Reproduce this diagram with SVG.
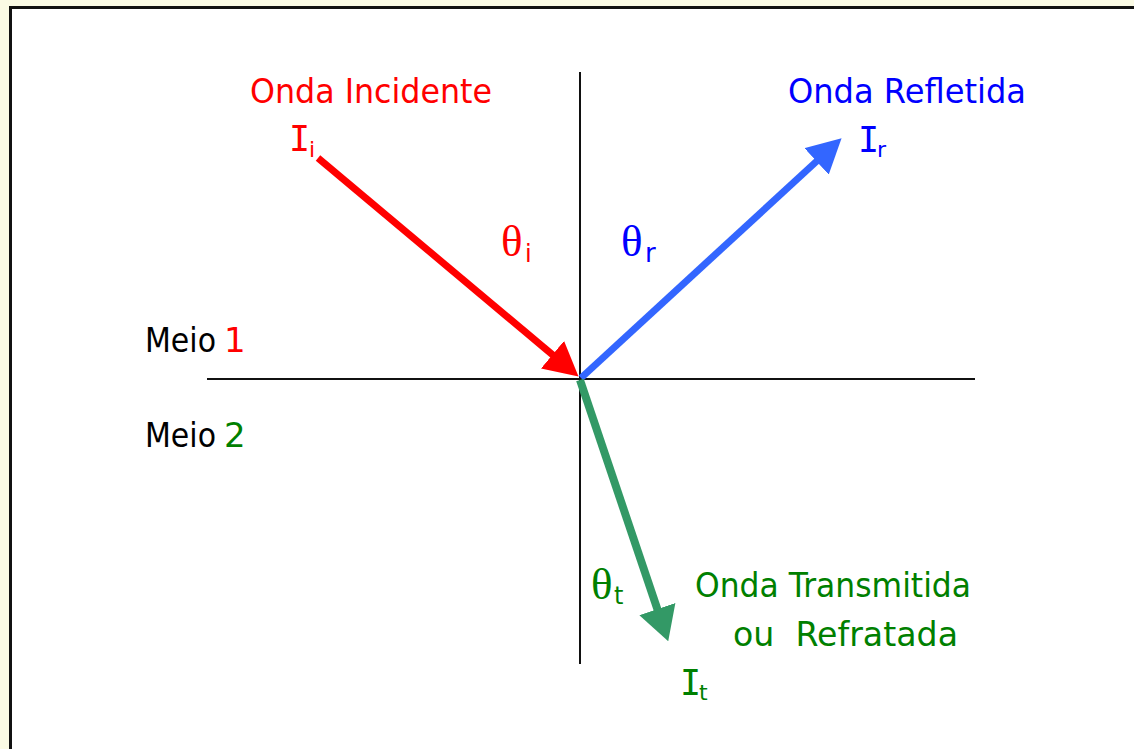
<svg xmlns="http://www.w3.org/2000/svg" width="1134" height="749" viewBox="0 0 1134 749">
  <style>
    .lbl { font-family: "Comic Sans MS", "DejaVu Sans", sans-serif; font-size: 34px; }
    .sym { font-family: "DejaVu Sans Mono", monospace; font-size: 35px; }
    .sub { font-family: "Comic Sans MS", "DejaVu Sans", sans-serif; font-size: 22px; }
    .th { font-family: "Liberation Serif", serif; font-size: 45px; }
    .red { fill: #FF0000; }
    .blue { fill: #0000FF; }
    .green { fill: #008000; }
    .blk { fill: #000000; }
    .axis { stroke: #111111; stroke-width: 2; fill: none; }
  </style>
  <defs>
    <marker id="hRed" markerUnits="userSpaceOnUse" viewBox="0 0 34 36" refX="2" refY="18" markerWidth="34" markerHeight="36" orient="auto">
      <path d="M0,0 L34,18 L0,36 Z" fill="#FF0000"/>
    </marker>
    <marker id="hBlue" markerUnits="userSpaceOnUse" viewBox="0 0 34 36" refX="2" refY="18" markerWidth="34" markerHeight="36" orient="auto">
      <path d="M0,0 L34,18 L0,36 Z" fill="#3366FF"/>
    </marker>
    <marker id="hGreen" markerUnits="userSpaceOnUse" viewBox="0 0 34 38" refX="2" refY="19" markerWidth="34" markerHeight="38" orient="auto">
      <path d="M0,0 L34,19 L0,38 Z" fill="#339966"/>
    </marker>
  </defs>

  <rect x="0" y="0" width="1134" height="749" fill="#FAFAE4"/>
  <rect x="10.5" y="7.5" width="1200" height="800" fill="#FFFFFF" stroke="#111111" stroke-width="3"/>

  <g id="axes">
    <line class="axis" x1="580" y1="72" x2="580" y2="664"/>
    <line class="axis" x1="207" y1="379" x2="975" y2="379"/>
  </g>

  <g id="connectors">
    <line id="incident" x1="318" y1="158" x2="554" y2="356" stroke="#FF0000" stroke-width="7" marker-end="url(#hRed)"/>
    <line id="reflected" x1="581" y1="378" x2="818" y2="160" stroke="#3366FF" stroke-width="7" marker-end="url(#hBlue)"/>
    <line id="transmitted" x1="580" y1="380" x2="658" y2="611" stroke="#339966" stroke-width="8" marker-end="url(#hGreen)"/>
  </g>

  <g id="incident-label">
    <text class="lbl red" x="250" y="103" textLength="242" lengthAdjust="spacingAndGlyphs">Onda Incidente</text>
    <text class="sym red" x="289" y="151">I</text>
    <text class="sub red" x="309" y="157">i</text>
  </g>

  <g id="reflected-label">
    <text class="lbl blue" x="788" y="103" textLength="238" lengthAdjust="spacingAndGlyphs">Onda Refletida</text>
    <text class="sym blue" x="858" y="152">I</text>
    <text class="sub blue" x="877" y="157">r</text>
  </g>

  <g id="theta-i">
    <text class="th red" x="501" y="256">θ</text>
    <text class="sub red" x="525" y="262" style="font-size:24px">i</text>
  </g>

  <g id="theta-r">
    <text class="th blue" x="621" y="256">θ</text>
    <text class="sub blue" x="645" y="262" style="font-size:26px">r</text>
  </g>

  <g id="medium1">
    <text class="lbl blk" x="145" y="352" textLength="71" lengthAdjust="spacingAndGlyphs">Meio</text>
    <text class="lbl red" x="224" y="352">1</text>
  </g>

  <g id="medium2">
    <text class="lbl blk" x="145" y="447" textLength="71" lengthAdjust="spacingAndGlyphs">Meio</text>
    <text class="lbl green" x="224" y="447">2</text>
  </g>

  <g id="theta-t">
    <text class="th green" x="591" y="599">θ</text>
    <text class="sub green" x="614" y="604" style="font-size:24px">t</text>
  </g>

  <g id="transmitted-label">
    <text class="lbl green" x="695" y="597" textLength="276" lengthAdjust="spacingAndGlyphs">Onda Transmitida</text>
    <text class="lbl green" x="733" y="646" textLength="225" lengthAdjust="spacingAndGlyphs" xml:space="preserve">ou  Refratada</text>
    <text class="sym green" x="680" y="695">I</text>
    <text class="sub green" x="699" y="700">t</text>
  </g>
</svg>
